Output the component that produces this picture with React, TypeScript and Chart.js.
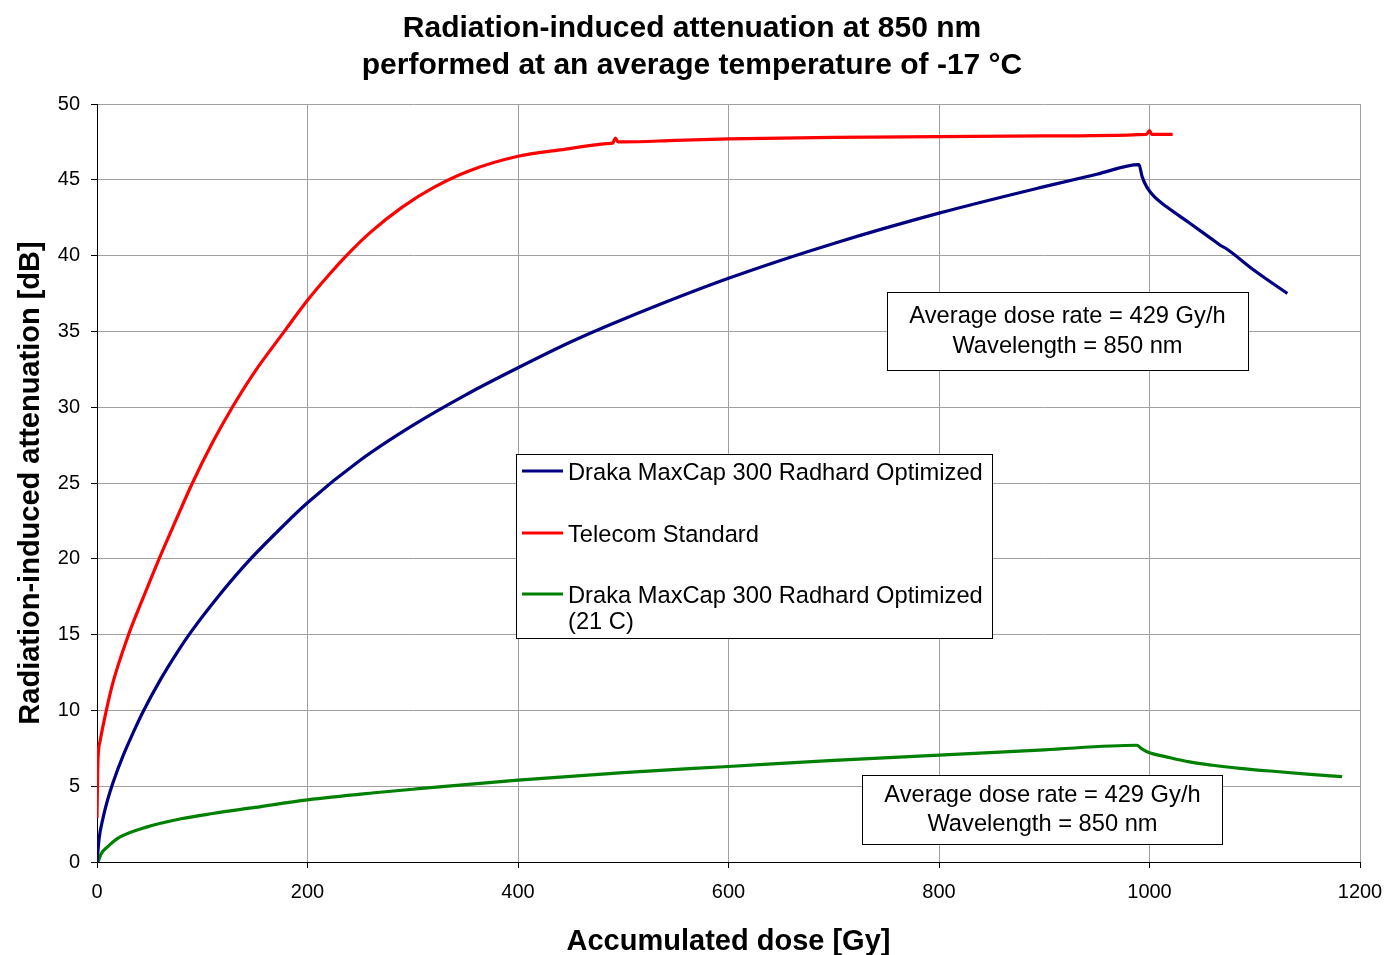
import { useEffect, useRef } from "react";
import { Chart, registerables } from "chart.js";

Chart.register(...registerables);

const FONT = "'Liberation Sans', Arial, Helvetica, sans-serif";

const TITLE_LINES = [
  "Radiation-induced attenuation at 850 nm",
  "performed at an average temperature of -17 °C",
];
const X_TITLE = "Accumulated dose [Gy]";
const Y_TITLE = "Radiation-induced attenuation [dB]";
const ANNOTATION_LINES = ["Average dose rate = 429 Gy/h", "Wavelength = 850 nm"];

const SERIES_NAMES = [
  "Draka MaxCap 300 Radhard Optimized",
  "Telecom Standard",
  "Draka MaxCap 300 Radhard Optimized\n(21 C)",
];
const SERIES_COLORS = ["#000080", "#ff0000", "#008000"];

const X_TICKS = [0, 200, 400, 600, 800, 1000, 1200];
const Y_TICKS = [0, 5, 10, 15, 20, 25, 30, 35, 40, 45, 50];

// Draka MaxCap 300 Radhard Optimized (-17 °C)
const BLUE_X = [0, 2, 5.7, 10, 15, 25, 35, 44, 60, 75, 88, 115, 142, 170, 200, 250, 300, 350, 400, 450, 500, 600, 700, 800, 900, 950, 990, 993, 997.6, 1005, 1016.6, 1038, 1064, 1068, 1072, 1100, 1131];
const BLUE_Y = [0, 1.55, 2.9, 4.08, 5.2, 7.05, 8.63, 9.95, 12.0, 13.7, 15.05, 17.5, 19.7, 21.7, 23.7, 26.5, 28.8, 30.8, 32.6, 34.3, 35.8, 38.5, 40.8, 42.8, 44.55, 45.37, 46.0, 45.2, 44.5, 43.85, 43.2, 42.15, 40.85, 40.65, 40.5, 39.0, 37.5];

// Telecom Standard
const RED_X = [0, 0.8, 3, 7.6, 15, 30, 44, 59, 75, 90, 110, 128.6, 150, 178, 200, 220, 237, 260, 290, 320, 354, 400, 440, 488, 490, 492.5, 495, 500, 550, 600, 700, 800, 900, 997, 1000, 1002, 1022];
const RED_Y = [2.9, 6.5, 8.0, 9.6, 11.8, 15.0, 17.45, 20.0, 22.55, 24.9, 27.7, 30.0, 32.35, 35.0, 37.05, 38.7, 40.0, 41.55, 43.2, 44.5, 45.6, 46.55, 46.97, 47.4, 47.42, 47.75, 47.5, 47.5, 47.6, 47.7, 47.8, 47.85, 47.9, 48.0, 48.25, 48.0, 48.0];

// Draka MaxCap 300 Radhard Optimized (21 C)
const GREEN_X = [1, 4, 10, 22, 47, 80, 110, 150, 200, 269, 300, 400, 500, 600, 700, 800, 900, 988, 992, 1000, 1015, 1038, 1060, 1086, 1120, 1150, 1183];
const GREEN_Y = [0, 0.55, 1.0, 1.65, 2.3, 2.85, 3.2, 3.6, 4.1, 4.6, 4.8, 5.4, 5.9, 6.3, 6.7, 7.05, 7.4, 7.7, 7.5, 7.2, 6.95, 6.6, 6.38, 6.18, 5.97, 5.8, 5.63];

const toPoints = (xs: number[], ys: number[]) => xs.map((x, i) => ({ x, y: ys[i] }));

const decorPlugin = {
  id: "decor",
  afterDraw(chart: any) {
    const ctx: CanvasRenderingContext2D = chart.ctx;
    const ca = chart.chartArea;
    ctx.save();
    ctx.fillStyle = "#000";
    ctx.textAlign = "center";
    ctx.textBaseline = "alphabetic";

    // Title
    ctx.font = `bold 30px ${FONT}`;
    ctx.fillText(TITLE_LINES[0], 692, 37);
    ctx.fillText(TITLE_LINES[1], 692, 74);

    // Axis titles
    ctx.font = `bold 29px ${FONT}`;
    ctx.fillText(X_TITLE, (ca.left + ca.right) / 2, 950);
    ctx.save();
    ctx.translate(39, (ca.top + ca.bottom) / 2);
    ctx.rotate(-Math.PI / 2);
    ctx.fillText(Y_TITLE, 0, 0);
    ctx.restore();

    // Annotation boxes
    const drawBox = (l: number, t: number, r: number, b: number) => {
      ctx.fillStyle = "#fff";
      ctx.fillRect(l, t, r - l, b - t);
      ctx.strokeStyle = "#000";
      ctx.lineWidth = 1;
      ctx.strokeRect(l + 0.5, t + 0.5, r - l, b - t);
      ctx.fillStyle = "#000";
    };
    ctx.font = `23.7px ${FONT}`;
    drawBox(887, 292, 1248, 370);
    ctx.fillText(ANNOTATION_LINES[0], 1067.5, 323);
    ctx.fillText(ANNOTATION_LINES[1], 1067.5, 353);
    drawBox(862, 775, 1222, 844);
    ctx.fillText(ANNOTATION_LINES[0], 1042.5, 802);
    ctx.fillText(ANNOTATION_LINES[1], 1042.5, 831);

    // Legend
    drawBox(516, 454, 992, 638);
    ctx.textAlign = "left";
    const rows = [480, 542, 603];
    chart.data.datasets.forEach((ds: any, i: number) => {
      const yb = rows[i];
      ctx.strokeStyle = ds.borderColor;
      ctx.lineWidth = 3;
      ctx.beginPath();
      ctx.moveTo(522, yb - 9);
      ctx.lineTo(563, yb - 9);
      ctx.stroke();
      ctx.fillStyle = "#000";
      String(ds.label)
        .split("\n")
        .forEach((line: string, k: number) => ctx.fillText(line, 568, yb + k * 26));
    });
    ctx.restore();
  },
};

export default function App() {
  const ref = useRef<HTMLCanvasElement | null>(null);

  useEffect(() => {
    document.body.style.margin = "0";
    const canvas = ref.current;
    if (!canvas) return;
    const series = [
      toPoints(BLUE_X, BLUE_Y),
      toPoints(RED_X, RED_Y),
      toPoints(GREEN_X, GREEN_Y),
    ];
    const chart = new Chart(canvas, {
      type: "line",
      data: {
        datasets: series.map((data, i) => ({
          label: SERIES_NAMES[i],
          data,
          borderColor: SERIES_COLORS[i],
          backgroundColor: SERIES_COLORS[i],
          borderWidth: 3.2,
          pointRadius: 0,
          fill: false,
          cubicInterpolationMode: "monotone" as const,
        })),
      },
      options: {
        animation: false,
        responsive: false,
        devicePixelRatio: 1,
        layout: { padding: { top: 104, right: 28, bottom: 0, left: 0 } },
        plugins: {
          legend: { display: false },
          title: { display: false },
          tooltip: { enabled: false },
        },
        scales: {
          x: {
            type: "linear",
            min: 0,
            max: 1200,
            afterBuildTicks: (s: any) => {
              s.ticks = X_TICKS.map((v) => ({ value: v }));
            },
            afterFit: (s: any) => {
              s.height = 93;
              s.paddingLeft = 0;
              s.paddingRight = 0;
            },
            grid: { color: "#a0a0a0", lineWidth: 1, tickLength: 6, tickColor: "#000" },
            border: { color: "#000", width: 1 },
            ticks: {
              color: "#000",
              font: { family: FONT, size: 20 },
              padding: 12,
              maxRotation: 0,
              callback: (v: any) => String(v),
            },
          },
          y: {
            type: "linear",
            min: 0,
            max: 50,
            afterBuildTicks: (s: any) => {
              s.ticks = Y_TICKS.map((v) => ({ value: v }));
            },
            afterFit: (s: any) => {
              s.width = 97;
              s.paddingTop = 0;
              s.paddingBottom = 0;
            },
            grid: { color: "#a0a0a0", lineWidth: 1, tickLength: 6, tickColor: "#000" },
            border: { color: "#000", width: 1 },
            ticks: {
              color: "#000",
              font: { family: FONT, size: 20 },
              padding: 11,
              callback: (v: any) => String(v),
            },
          },
        },
      },
      plugins: [decorPlugin],
    });
    return () => chart.destroy();
  }, []);

  return (
    <div style={{ width: 1388, height: 955, background: "#fff" }}>
      <canvas ref={ref} width={1388} height={955} style={{ display: "block" }} />
    </div>
  );
}
